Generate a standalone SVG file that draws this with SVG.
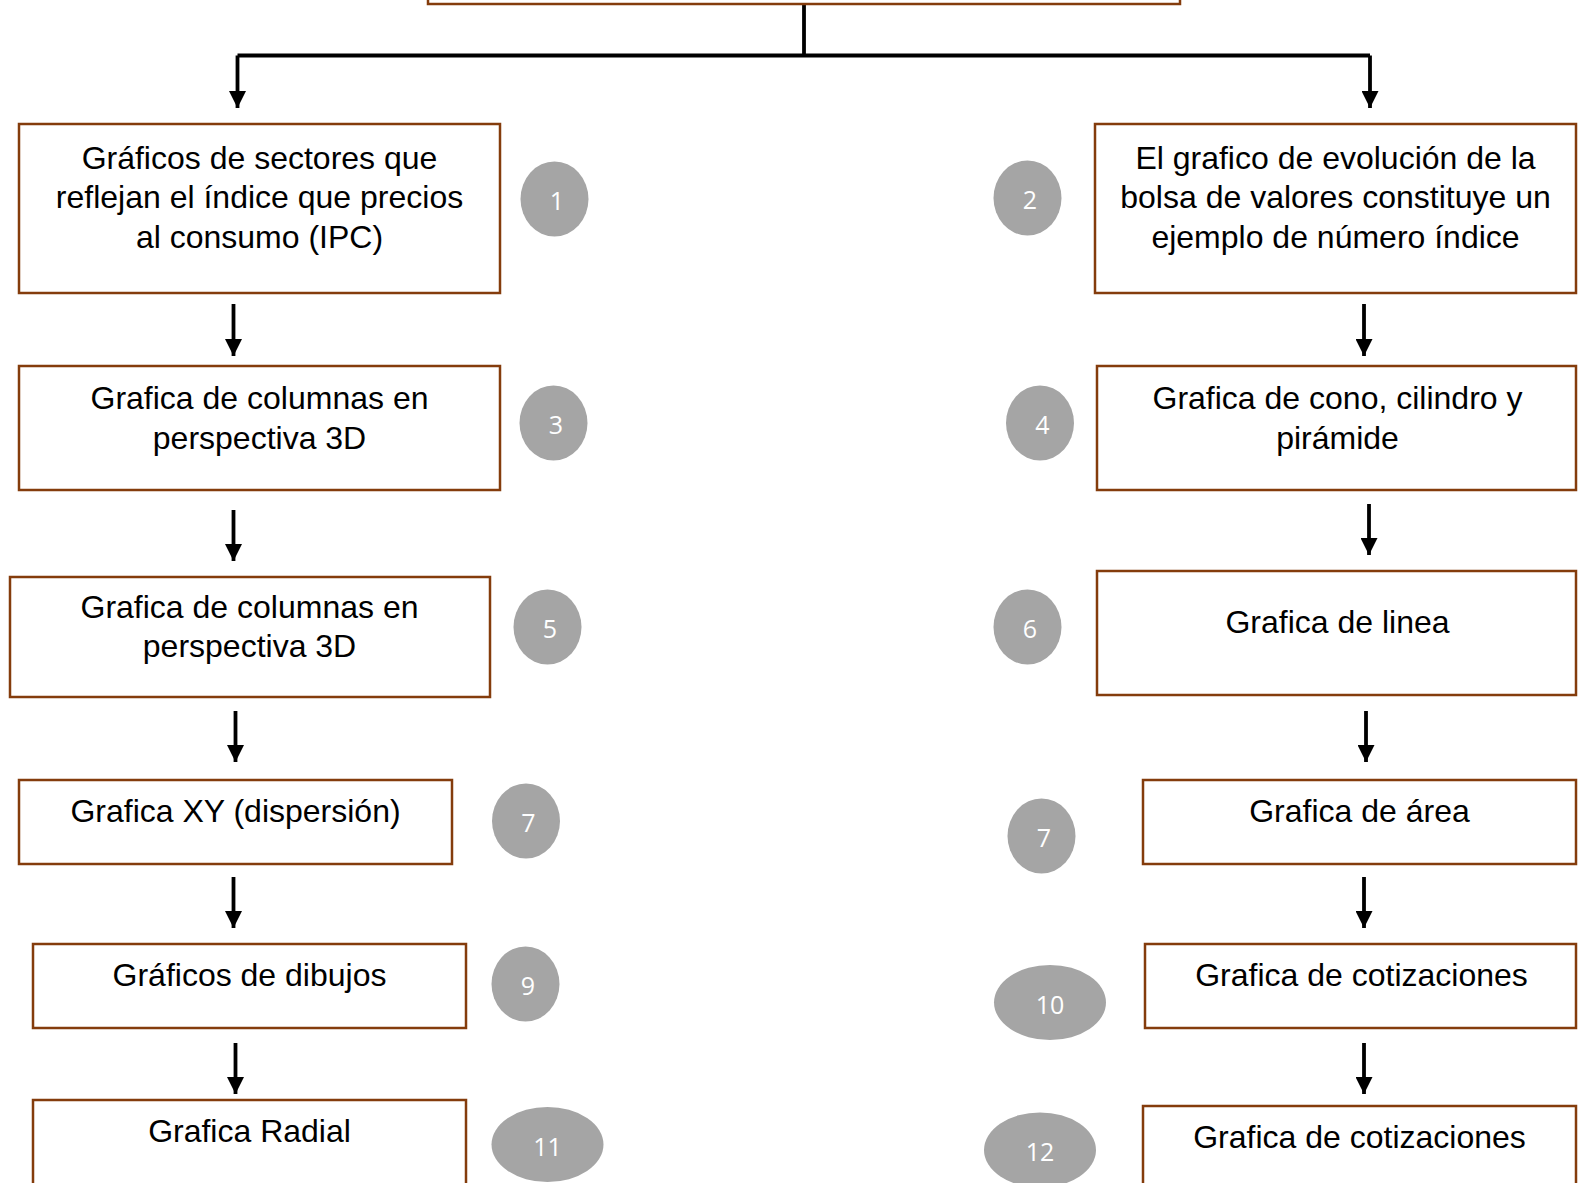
<svg xmlns="http://www.w3.org/2000/svg" width="1578" height="1183" viewBox="0 0 1578 1183">
<defs>
<style>
.box{fill:#fff;stroke:#843C0C;stroke-width:2.5}
.t{font-family:"Liberation Sans",Arial,sans-serif;font-size:32px;fill:#000;text-anchor:middle}
.e{fill:#A5A5A5}
.n{font-family:"Open Sans","Liberation Sans",sans-serif;font-size:25px;fill:#fff;text-anchor:middle}
.c{fill:none;stroke:#000;stroke-width:3.8}
</style>
<marker id="ah" viewBox="0 0 10 10" refX="10" refY="5" markerWidth="17" markerHeight="17" markerUnits="userSpaceOnUse" orient="auto">
<path d="M0,0 L10,5 L0,10 z" fill="#000"/>
</marker>
</defs>
<rect width="1578" height="1183" fill="#fff"/>
<g id="connectors">
<path class="c" d="M804,4 V55.5"/>
<path class="c" d="M237.5,55.5 H1370"/>
<path class="c" d="M237.5,55.5 V108" marker-end="url(#ah)"/>
<path class="c" d="M1370,55.5 V108" marker-end="url(#ah)"/>
<path class="c" d="M233.5,304 V356" marker-end="url(#ah)"/>
<path class="c" d="M1364,304 V356" marker-end="url(#ah)"/>
<path class="c" d="M233.5,510 V561" marker-end="url(#ah)"/>
<path class="c" d="M1369,504 V555" marker-end="url(#ah)"/>
<path class="c" d="M235.5,711 V762" marker-end="url(#ah)"/>
<path class="c" d="M1366,711 V762" marker-end="url(#ah)"/>
<path class="c" d="M233.5,877 V928" marker-end="url(#ah)"/>
<path class="c" d="M1364,877 V928" marker-end="url(#ah)"/>
<path class="c" d="M235.5,1043 V1094" marker-end="url(#ah)"/>
<path class="c" d="M1364,1043 V1094" marker-end="url(#ah)"/>
</g>
<g id="top">
<rect class="box" x="428" y="-40" width="752" height="44"/>
</g>
<g id="n1">
<rect class="box" x="19" y="124" width="481" height="169"/>
<text class="t" x="259.5" y="168.5">Gráficos de sectores que</text>
<text class="t" x="259.5" y="208">reflejan el índice que precios</text>
<text class="t" x="259.5" y="247.5">al consumo (IPC)</text>
</g>
<g id="e1"><ellipse class="e" cx="554.5" cy="199" rx="34" ry="37.5"/><text class="n" x="557" y="210">1</text></g>
<g id="n2">
<rect class="box" x="1095" y="124" width="481" height="169"/>
<text class="t" x="1335.5" y="168.5">El grafico de evolución de la</text>
<text class="t" x="1335.5" y="208">bolsa de valores constituye un</text>
<text class="t" x="1335.5" y="247.5">ejemplo de número índice</text>
</g>
<g id="e2"><ellipse class="e" cx="1027.5" cy="198" rx="34" ry="37.5"/><text class="n" x="1030" y="209">2</text></g>
<g id="n3">
<rect class="box" x="19" y="366" width="481" height="124"/>
<text class="t" x="259.5" y="408.5">Grafica de columnas en</text>
<text class="t" x="259.5" y="448.5">perspectiva 3D</text>
</g>
<g id="e3"><ellipse class="e" cx="553.5" cy="423" rx="34" ry="37.5"/><text class="n" x="556" y="434">3</text></g>
<g id="n4">
<rect class="box" x="1097" y="366" width="479" height="124"/>
<text class="t" x="1337.5" y="408.5">Grafica de cono, cilindro y</text>
<text class="t" x="1337.5" y="448.5">pirámide</text>
</g>
<g id="e4"><ellipse class="e" cx="1040" cy="423" rx="34" ry="37.5"/><text class="n" x="1042.5" y="434">4</text></g>
<g id="n5">
<rect class="box" x="10" y="577" width="480" height="120"/>
<text class="t" x="249.5" y="618">Grafica de columnas en</text>
<text class="t" x="249.5" y="657">perspectiva 3D</text>
</g>
<g id="e5"><ellipse class="e" cx="547.5" cy="627" rx="34" ry="37.5"/><text class="n" x="550" y="638">5</text></g>
<g id="n6">
<rect class="box" x="1097" y="571" width="479" height="124"/>
<text class="t" x="1337.5" y="632.5">Grafica de linea</text>
</g>
<g id="e6"><ellipse class="e" cx="1027.5" cy="627" rx="34" ry="37.5"/><text class="n" x="1030" y="638">6</text></g>
<g id="n7">
<rect class="box" x="19" y="780" width="433" height="84"/>
<text class="t" x="235.5" y="822">Grafica XY (dispersión)</text>
</g>
<g id="e7"><ellipse class="e" cx="526" cy="821" rx="34" ry="37.5"/><text class="n" x="528.5" y="832">7</text></g>
<g id="n8">
<rect class="box" x="1143" y="780" width="433" height="84"/>
<text class="t" x="1359.5" y="822">Grafica de área</text>
</g>
<g id="e8"><ellipse class="e" cx="1041.5" cy="836" rx="34" ry="37.5"/><text class="n" x="1044" y="847">7</text></g>
<g id="n9">
<rect class="box" x="33" y="944" width="433" height="84"/>
<text class="t" x="249.5" y="986">Gráficos de dibujos</text>
</g>
<g id="e9"><ellipse class="e" cx="525.5" cy="984" rx="34" ry="37.5"/><text class="n" x="528" y="995">9</text></g>
<g id="n10">
<rect class="box" x="1145" y="944" width="431" height="84"/>
<text class="t" x="1361.5" y="986">Grafica de cotizaciones</text>
</g>
<g id="e10"><ellipse class="e" cx="1050" cy="1002.5" rx="56" ry="37.5"/><text class="n" x="1050" y="1013.5">10</text></g>
<g id="n11">
<rect class="box" x="33" y="1100" width="433" height="120"/>
<text class="t" x="249.5" y="1142">Grafica Radial</text>
</g>
<g id="e11"><ellipse class="e" cx="547.5" cy="1144.5" rx="56" ry="37.5"/><text class="n" x="547.5" y="1155.5">11</text></g>
<g id="n12">
<rect class="box" x="1143" y="1106" width="433" height="120"/>
<text class="t" x="1359.5" y="1148">Grafica de cotizaciones</text>
</g>
<g id="e12"><ellipse class="e" cx="1040" cy="1150" rx="56" ry="37.5"/><text class="n" x="1040" y="1161">12</text></g>
</svg>
